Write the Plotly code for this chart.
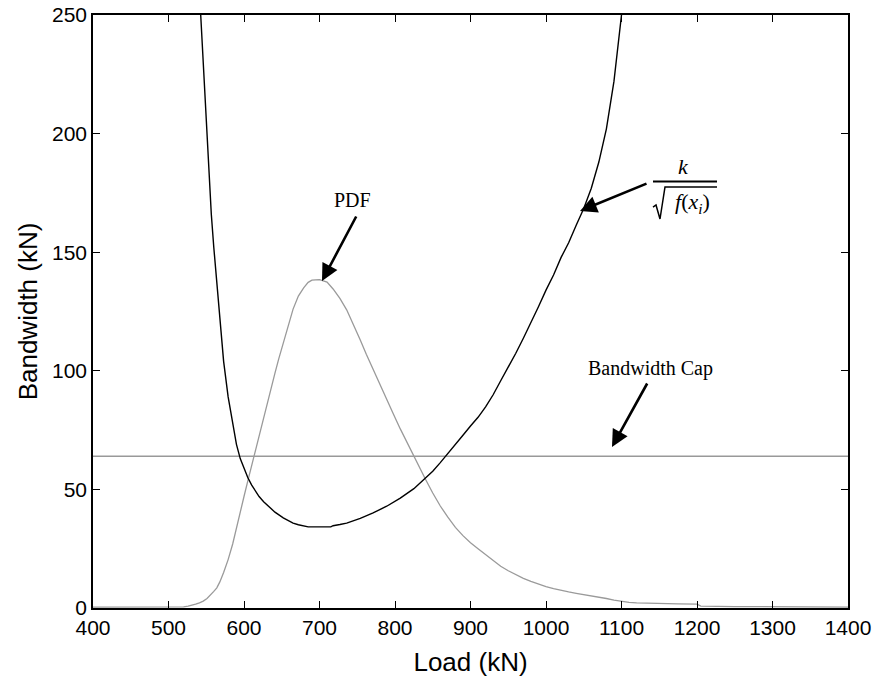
import plotly.graph_objects as go

# ---------------- data ----------------
load_pdf = [400, 450, 500, 520, 526, 531, 536, 541, 546, 551, 556, 560, 564, 568, 573,
            579, 585, 590, 595, 600, 605, 610, 615, 620, 626, 632, 641, 646, 652, 658,
            665, 672, 679, 685, 690, 700, 710, 718, 727, 736, 745, 754, 762, 771, 780,
            789, 798, 807, 816, 825, 832, 840, 850, 860, 870, 880, 890, 900, 910, 920,
            930, 940, 950, 960, 970, 980, 990, 1000, 1010, 1020, 1030, 1040, 1050, 1060,
            1070, 1080, 1090, 1100, 1110, 1120, 1135, 1150, 1175, 1200, 1205, 1250, 1300,
            1350, 1400]
pdf_bw = [0.4, 0.4, 0.4, 0.5, 0.8, 1.1, 1.6, 2.2, 2.9, 4.0, 5.5, 7.0, 8.5, 11, 15,
          20.4, 27, 34, 40.5, 47, 53.5, 60, 66.5, 73, 80.5, 88, 99, 105, 112, 119,
          126, 131.5, 135, 137.3, 138.2, 138.4, 137.4, 134.5, 130.5, 125.7, 119.5, 113, 107, 100.5, 94,
          88, 81.7, 75.5, 69.6, 64, 59.8, 54.5, 48.5, 43, 38.3, 34, 30.5, 27.5, 25, 22.5,
          20, 17.6, 15.7, 14, 12.5, 11.2, 10, 9, 8.2, 7.4, 6.8, 6.2, 5.7, 5.1,
          4.5, 4.0, 3.3, 2.8, 2.4, 2.2, 2.0, 1.8, 1.7, 1.6, 0.8, 0.6, 0.5,
          0.5, 0.4]

load_k = [541, 542.6, 545.7, 548, 550, 552.3, 554.5, 556.7, 560, 564, 568, 573, 579,
          585, 590, 595, 600, 605, 610, 615, 620, 626, 632, 641, 652, 665, 672, 679,
          685, 715, 718, 727, 736, 754, 771, 789, 807, 825, 840, 850, 860, 870, 880,
          890, 900, 910, 920, 930, 940, 950, 960, 970, 980, 990, 1000, 1010, 1020, 1030,
          1040, 1050, 1060, 1070, 1080, 1090, 1100, 1102]
k_bw = [260, 250, 236, 222, 208, 190, 177, 166, 152, 138, 122, 104, 89,
        77, 69, 63, 58.6, 55, 51.9, 49.3, 47, 44.8, 42.9, 40.4, 38, 35.8, 35.1, 34.6,
        34.2, 34.2, 34.7, 35.2, 35.8, 37.8, 40.1, 42.9, 46.3, 50.3, 54.5, 57.7, 61.3, 65, 68.9,
        72.8, 76.7, 80.4, 84.8, 89.9, 95.8, 101.5, 107.4, 113.7, 120, 127, 134, 140.4, 147.8, 154,
        161.4, 168.4, 177, 188, 202, 222, 250, 258]

cap_load = [400, 1400]
cap_bw = [64, 64]

x_ticks = [400, 500, 600, 700, 800, 900, 1000, 1100, 1200, 1300, 1400]
y_ticks = [0, 50, 100, 150, 200, 250]

# ---------------- layout geometry (pixels) ----------------
W, H = 872, 677
ML, MR, MT, MB = 93, 24, 15, 69
PW, PH = W - ML - MR, H - MT - MB


def px(xp):
    return (xp - ML) / PW


def py(yp):
    return (H - MB - yp) / PH


def dx(xp):
    return 400 + (xp - ML) / PW * 1000


def dy(yp):
    return (H - MB - yp) / PH * 250


fig = go.Figure()
fig.add_trace(go.Scatter(x=cap_load, y=cap_bw, mode="lines",
                         line=dict(color="#999999", width=1.5), showlegend=False))
fig.add_trace(go.Scatter(x=load_pdf, y=pdf_bw, mode="lines",
                         line=dict(color="#9a9a9a", width=1.3), showlegend=False))
fig.add_trace(go.Scatter(x=load_k, y=k_bw, mode="lines",
                         line=dict(color="#000000", width=1.4), showlegend=False))

serif = "Liberation Serif, Times New Roman, serif"
sans = "Liberation Sans, Arial, sans-serif"

annotations = []


def arrow(tail, tip):
    annotations.append(dict(
        x=dx(tip[0]), y=dy(tip[1]), ax=dx(tail[0]), ay=dy(tail[1]),
        xref="x", yref="y", axref="x", ayref="y", text="",
        showarrow=True, arrowhead=2, arrowsize=1.3, arrowwidth=2.6,
        arrowcolor="#000000", standoff=0, startstandoff=0))


def label(text, xp, yp, size, family=serif):
    annotations.append(dict(
        x=px(xp), y=py(yp), xref="paper", yref="paper", text=text,
        showarrow=False, xanchor="center", yanchor="middle",
        font=dict(family=family, size=size, color="#000000")))


label("PDF", 352, 200, 20)
arrow((357, 215), (322, 281))
label("Bandwidth Cap", 650, 368, 20)
arrow((648, 382), (612, 447))
arrow((648, 183), (580, 211))

# formula k / sqrt(f(x_i))
label("<i>k</i>", 683, 167, 22)
label("<i>f</i>(<i>x<sub>i</sub></i>)", 692, 203, 22)


def P(xp, yp):
    return f"{px(xp):.5f},{py(yp):.5f}"


radical = ("M " + P(653, 207) + " L " + P(656, 205) + " L " + P(660, 219)
           + " L " + P(665, 187) + " L " + P(717, 187))

shapes = [
    dict(type="line", xref="paper", yref="paper", x0=px(653), x1=px(717),
         y0=py(181.5), y1=py(181.5), line=dict(color="#000000", width=2)),
    dict(type="path", xref="paper", yref="paper", path=radical,
         line=dict(color="#000000", width=1.5)),
]

axis_common = dict(
    showline=True, linecolor="#000000", linewidth=1.5, mirror="ticks",
    ticks="inside", ticklen=7, tickwidth=1.3, tickcolor="#000000",
    showgrid=False, zeroline=False, automargin=False,
    tickfont=dict(family=sans, size=21, color="#000000"),
)

fig.update_layout(
    template="none",
    width=W, height=H,
    margin=dict(l=ML, r=MR, t=MT, b=MB, autoexpand=False),
    paper_bgcolor="white", plot_bgcolor="white",
    xaxis=dict(range=[400, 1400], tickvals=x_ticks, ticktext=[str(v) for v in x_ticks],
               title=dict(text="Load (kN)", font=dict(family=sans, size=26, color="#000000"),
                          standoff=15),
               **axis_common),
    yaxis=dict(range=[0, 250], tickvals=y_ticks, ticktext=[str(v) for v in y_ticks],
               title=dict(text="Bandwidth (kN)", font=dict(family=sans, size=26, color="#000000"),
                          standoff=7),
               **axis_common),
    annotations=annotations,
    shapes=shapes,
)

fig.write_html("out.html", config={"displayModeBar": False},
               post_script="document.body.style.margin='0';")
